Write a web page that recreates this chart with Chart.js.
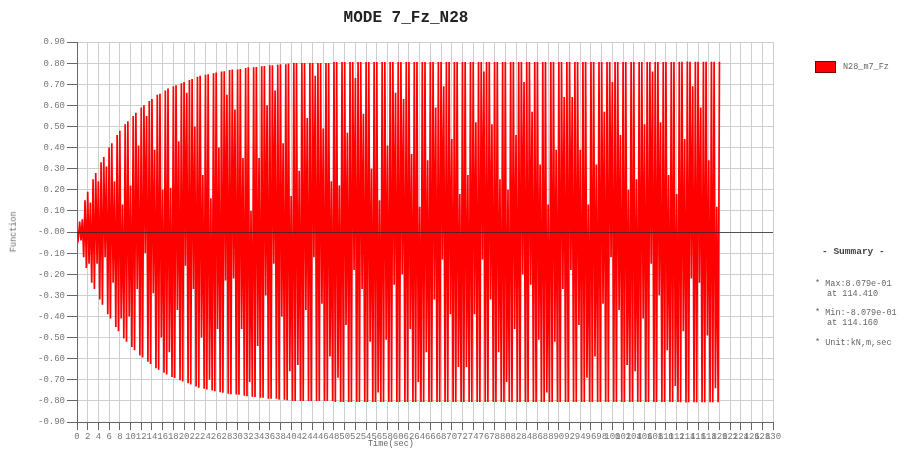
<!DOCTYPE html>
<html>
<head>
<meta charset="utf-8">
<title>MODE 7_Fz_N28</title>
<script src="https://cdn.jsdelivr.net/npm/chart.js"></script>
<style>
  body { margin: 0; background: #fff; }
  #wrap { position: relative; width: 898px; height: 449px; overflow: hidden; }
  #fz-chart { position: absolute; left: 0; top: 0; }
  .txt { position: absolute; font-family: "Liberation Mono", "DejaVu Sans Mono", monospace; font-size: 8.5px; color: #666; white-space: pre; line-height: 1; }
</style>
</head>
<body>
<div id="wrap">
  <canvas id="fz-chart" width="898" height="449"></canvas>
  <div class="txt" style="left:0;width:812px;text-align:center;top:10px;font-size:16px;font-weight:bold;color:#222;">MODE 7_Fz_N28</div>
  <div class="txt" style="left:368px;top:440px;">Time(sec)</div>
  <div class="txt" style="left:-6px;top:228px;transform:rotate(-90deg);transform-origin:center;width:40px;text-align:center;">Function</div>
  <div style="position:absolute;left:815px;top:61px;width:19px;height:10px;background:#ff0000;border:1px solid #700;"></div>
  <div class="txt" style="left:843px;top:63px;">N28_m7_Fz</div>
  <div class="txt" style="left:822px;top:247px;font-size:9.5px;font-weight:bold;color:#444;">- Summary -</div>
  <div class="txt" style="left:815px;top:280px;">* Max:8.079e-01</div>
  <div class="txt" style="left:827px;top:290px;">at 114.410</div>
  <div class="txt" style="left:815px;top:309px;">* Min:-8.079e-01</div>
  <div class="txt" style="left:827px;top:319px;">at 114.160</div>
  <div class="txt" style="left:815px;top:339px;">* Unit:kN,m,sec</div>
</div>
<script>
const ctx = document.getElementById('fz-chart').getContext('2d');

// Fz response, one value per half cycle (every 0.25 sec)
const dt = 0.25;
const fz0to30 = [
  0, -0.03, 0.05, -0.04, 0.06, -0.12,        0.15, -0.17, 0.19, -0.15, 0.14, -0.24,
  0.25, -0.27, 0.28, -0.15, 0.24, -0.32,     0.33, -0.345, 0.355, -0.12, 0.31, -0.39,
  0.40, -0.41, 0.42, -0.24, 0.24, -0.45,     0.46, -0.47, 0.48, -0.41, 0.13, -0.505,
  0.51, -0.52, 0.525, -0.40, 0.22, -0.545,   0.55, -0.56, 0.565, -0.27, 0.41, -0.585,
  0.59, -0.595, 0.60, -0.10, 0.55, -0.615,   0.62, -0.625, 0.63, -0.29, 0.39, -0.645,
  0.65, -0.652, 0.655, -0.50, 0.20, -0.667,  0.67, -0.675, 0.68, -0.57, 0.21, -0.687,
  0.69, -0.692, 0.695, -0.37, 0.43, -0.702,  0.705, -0.708, 0.71, -0.16, 0.66, -0.717,
  0.72, -0.722, 0.725, -0.27, 0.50, -0.732,  0.735, -0.738, 0.74, -0.50, 0.27, -0.743,
  0.745, -0.746, 0.747, -0.70, 0.16, -0.751, 0.752, -0.754, 0.755, -0.46, 0.40, -0.759,
  0.76, -0.761, 0.762, -0.23, 0.65, -0.766,  0.767, -0.768, 0.77, -0.22, 0.58, -0.77
];
const fz30to60 = [
  0.77, -0.771, 0.772, -0.46, 0.35, -0.776,  0.777, -0.778, 0.78, -0.71, 0.10, -0.78,
  0.78, -0.781, 0.782, -0.54, 0.35, -0.785,  0.785, -0.785, 0.786, -0.30, 0.60, -0.79,
  0.79, -0.79, 0.79, -0.15, 0.67, -0.79,     0.792, -0.794, 0.795, -0.40, 0.42, -0.795,
  0.795, -0.797, 0.798, -0.66, 0.17, -0.80,  0.80, -0.80, 0.80, -0.63, 0.29, -0.80,
  0.80, -0.80, 0.80, -0.37, 0.54, -0.80,     0.80, -0.80, 0.80, -0.12, 0.74, -0.80,
  0.80, -0.80, 0.80, -0.34, 0.49, -0.80,     0.80, -0.80, 0.80, -0.59, 0.24, -0.80,
  0.805, -0.805, 0.805, -0.69, 0.22, -0.805, 0.805, -0.805, 0.805, -0.44, 0.47, -0.805,
  0.805, -0.805, 0.805, -0.18, 0.73, -0.805, 0.805, -0.805, 0.805, -0.27, 0.56, -0.805,
  0.805, -0.805, 0.805, -0.52, 0.30, -0.805, 0.805, -0.805, 0.805, -0.76, 0.15, -0.805,
  0.805, -0.805, 0.805, -0.51, 0.41, -0.805, 0.805, -0.805, 0.805, -0.25, 0.66, -0.805
];
const fz60to90 = [
  0.805, -0.805, 0.805, -0.20, 0.63, -0.805, 0.805, -0.805, 0.805, -0.46, 0.37, -0.805,
  0.805, -0.805, 0.805, -0.71, 0.12, -0.805, 0.805, -0.805, 0.805, -0.57, 0.34, -0.805,
  0.805, -0.805, 0.805, -0.32, 0.59, -0.805, 0.805, -0.805, 0.805, -0.13, 0.69, -0.805,
  0.805, -0.805, 0.805, -0.39, 0.44, -0.805, 0.805, -0.805, 0.805, -0.64, 0.18, -0.805,
  0.805, -0.805, 0.805, -0.64, 0.27, -0.805, 0.805, -0.805, 0.805, -0.39, 0.52, -0.805,
  0.805, -0.805, 0.805, -0.13, 0.76, -0.805, 0.805, -0.805, 0.805, -0.32, 0.51, -0.805,
  0.805, -0.805, 0.805, -0.57, 0.25, -0.805, 0.805, -0.805, 0.805, -0.71, 0.20, -0.805,
  0.805, -0.805, 0.805, -0.46, 0.46, -0.805, 0.805, -0.805, 0.805, -0.20, 0.71, -0.805,
  0.805, -0.805, 0.805, -0.25, 0.57, -0.805, 0.805, -0.805, 0.805, -0.51, 0.32, -0.805,
  0.805, -0.805, 0.805, -0.76, 0.13, -0.805, 0.805, -0.805, 0.805, -0.52, 0.39, -0.805
];
const fz90to120 = [
  0.805, -0.805, 0.805, -0.27, 0.64, -0.805, 0.805, -0.805, 0.805, -0.18, 0.64, -0.805,
  0.805, -0.805, 0.805, -0.44, 0.39, -0.805, 0.805, -0.805, 0.805, -0.69, 0.13, -0.805,
  0.805, -0.805, 0.805, -0.59, 0.32, -0.805, 0.805, -0.805, 0.805, -0.34, 0.57, -0.805,
  0.805, -0.805, 0.805, -0.12, 0.71, -0.805, 0.805, -0.805, 0.805, -0.37, 0.46, -0.805,
  0.805, -0.805, 0.805, -0.63, 0.20, -0.805, 0.805, -0.805, 0.805, -0.66, 0.25, -0.805,
  0.805, -0.805, 0.805, -0.41, 0.51, -0.805, 0.805, -0.805, 0.805, -0.15, 0.76, -0.805,
  0.805, -0.805, 0.805, -0.30, 0.52, -0.805, 0.805, -0.805, 0.805, -0.56, 0.27, -0.805,
  0.805, -0.805, 0.805, -0.73, 0.18, -0.805, 0.806, -0.806, 0.806, -0.47, 0.44, -0.808,
  0.808, -0.806, 0.806, -0.22, 0.69, -0.806, 0.806, -0.806, 0.806, -0.24, 0.59, -0.806,
  0.806, -0.806, 0.806, -0.49, 0.34, -0.806, 0.806, -0.806, 0.806, -0.74, 0.12, -0.806,
  0.806
];

const fz = [...fz0to30, ...fz30to60, ...fz60to90, ...fz90to120];
const points = fz.map((v, i) => ({ x: i * dt, y: v }));

const monoFont = { family: '"Liberation Mono", "DejaVu Sans Mono", monospace', size: 9 };

// dark zero line drawn over the response
const zeroLine = {
  id: 'zeroLine',
  afterDatasetsDraw(chart) {
    const { ctx, chartArea: a, scales: { y } } = chart;
    const py = Math.round(y.getPixelForValue(0)) + 0.5;
    ctx.save();
    ctx.strokeStyle = 'rgba(40,40,40,0.75)';
    ctx.lineWidth = 1.2;
    ctx.beginPath();
    ctx.moveTo(a.left, py);
    ctx.lineTo(a.right, py);
    ctx.stroke();
    ctx.restore();
  }
};

const fzChart = new Chart(ctx, {
  type: 'line',
  data: {
    datasets: [{
      label: 'N28_m7_Fz',
      data: points,
      borderColor: '#ff0000',
      borderWidth: 1.7,
      borderJoinStyle: 'miter',
      pointRadius: 0,
      tension: 0,
      fill: false
    }]
  },
  options: {
    responsive: false,
    animation: false,
    layout: { padding: { left: 0, right: 125, top: 42, bottom: 0 } },
    plugins: {
      legend: { display: false },
      tooltip: { enabled: false }
    },
    scales: {
      x: {
        type: 'linear',
        min: 0,
        max: 130,
        afterFit(s) { s.height = 27; },
        ticks: {
          stepSize: 2,
          maxTicksLimit: 200,
          autoSkip: false,
          maxRotation: 0,
          minRotation: 0,
          padding: 1,
          color: '#777',
          font: monoFont,
          callback: v => String(v)
        },
        grid: { color: '#cfcfcf', tickColor: '#666', tickLength: 8 },
        border: { color: '#666' }
      },
      y: {
        min: -0.9,
        max: 0.9,
        afterFit(s) { s.width = 77; },
        ticks: {
          stepSize: 0.1,
          padding: 2,
          color: '#777',
          font: monoFont,
          callback: v => Math.abs(v) < 1e-6 ? '-0.00' : v.toFixed(2)
        },
        grid: { color: '#cfcfcf', tickColor: '#666', tickLength: 10 },
        border: { color: '#666' }
      }
    }
  },
  plugins: [zeroLine]
});
</script>
</body>
</html>
